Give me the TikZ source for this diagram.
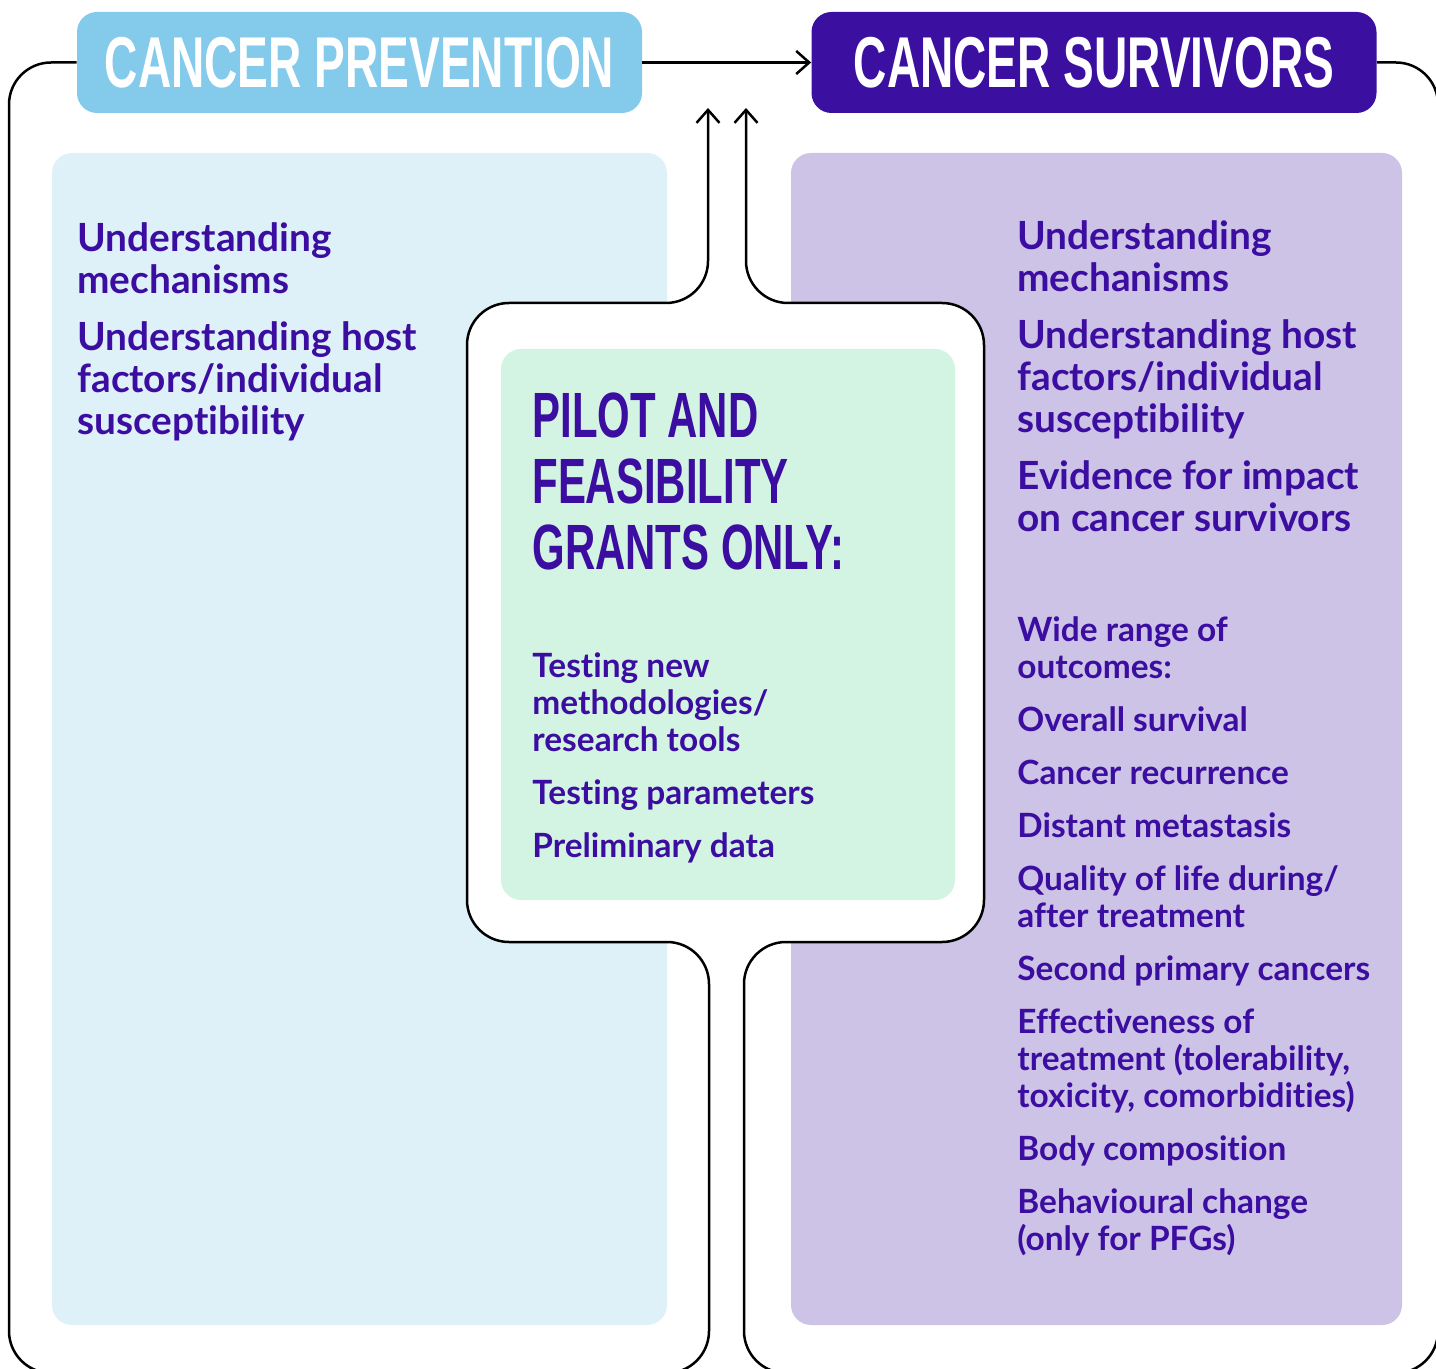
\documentclass[tikz,border=0pt]{standalone}
\usepackage{fontspec}
\setmainfont{Lato}[Ligatures={NoCommon,NoRequired}, Contextuals=NoAlternate]
\newfontfamily\headfont[FakeStretch=0.64]{Liberation Sans}
\newfontfamily\pilotfont[FakeStretch=0.655]{Liberation Sans}
\usetikzlibrary{arrows.meta}

\definecolor{prevblue}{HTML}{84CAEA}
\definecolor{prevpanel}{HTML}{DFF1F8}
\definecolor{survpurple}{HTML}{3B0F9F}
\definecolor{survpanel}{HTML}{CDC3E6}
\definecolor{pilotgreen}{HTML}{D4F4E3}
\definecolor{inkpurple}{HTML}{3B0DA0}

\tikzset{
  header/.style={rounded corners=10pt, minimum width=282.5pt, minimum height=50.5pt,
    inner sep=0pt, text=white, font=\headfont\bfseries\fontsize{36}{36}\selectfont},
  panel/.style={rounded corners=10pt},
  bigitem/.style={anchor=north west, align=left, inner sep=0pt, text=inkpurple,
    font=\bfseries\fontsize{19.4}{21}\selectfont},
  smallitem/.style={anchor=north west, align=left, inner sep=0pt, text=inkpurple,
    font=\bfseries\fontsize{16.7}{18.5}\selectfont},
  pilothead/.style={anchor=north west, align=left, inner sep=0pt, text=inkpurple,
    font=\pilotfont\bfseries\fontsize{32}{33.2}\selectfont},
  outline/.style={line width=1.25pt, rounded corners=21pt},
  flow/.style={-{Straight Barb[length=6.5pt,width=11.5pt]}, line width=1.25pt}
}

\begin{document}
\begin{tikzpicture}[x=0.5pt,y=-0.5pt]
  \useasboundingbox (0,0) rectangle (1436,1369);

  % background panels
  \fill [prevpanel, panel] (52,153) rectangle (667,1325);
  \fill [survpanel, panel] (791,153) rectangle (1402,1325);
  \fill [white, rounded corners=21pt] (467,303) rectangle (984,942);
  \fill [pilotgreen, panel] (501,349) rectangle (955,900);

  % headers
  \node [header, fill=prevblue] (prev) at (359.5,62.5) {CANCER PREVENTION};
  \node [header, fill=survpurple] (surv) at (1094,62.5) {CANCER SURVIVORS};

  \coordinate (upleft) at (708,108);
  \coordinate (upright) at (746,108);

  % connectors
  \draw [flow] (prev) -- (surv);
  \draw [outline, flow] (prev.west) -- (9,62.5) -- (9,1373) -- (709,1373) -- (709,942)
    -- (467,942) -- (467,303) -- (708,303) -- (upleft);
  \draw [outline, flow] (surv.east) -- (1438,62.5) -- (1438,1373) -- (744,1373) -- (744,942)
    -- (984,942) -- (984,303) -- (746,303) -- (upright);

  % texts
  \node [bigitem] (prevtext) at (77,222) {Understanding\\mechanisms\\[7.5pt]Understanding host\\factors/individual\\susceptibility};
  \node [bigitem] (survtext) at (1017,220) {Understanding\\mechanisms\\[7.5pt]Understanding host\\factors/individual\\susceptibility\\[7.5pt]Evidence for impact\\on cancer survivors};
  \node [smallitem] (outcomes) at (1017,616) {Wide range of\\outcomes:\\[8pt]Overall survival\\[8pt]Cancer recurrence\\[8pt]Distant metastasis\\[8pt]Quality of life during/\\after treatment\\[8pt]Second primary cancers\\[8pt]Effectiveness of\\treatment (tolerability,\\toxicity, comorbidities)\\[8pt]Body composition\\[8pt]Behavioural change\\(only for PFGs)};

  \node [pilothead] (pilot) at (532,392) {PILOT AND\\FEASIBILITY\\GRANTS ONLY:};
  \node [smallitem] (pilotitems) at (532,652) {Testing new\\methodologies/\\research tools\\[8pt]Testing parameters\\[8pt]Preliminary data};
\end{tikzpicture}
\end{document}
